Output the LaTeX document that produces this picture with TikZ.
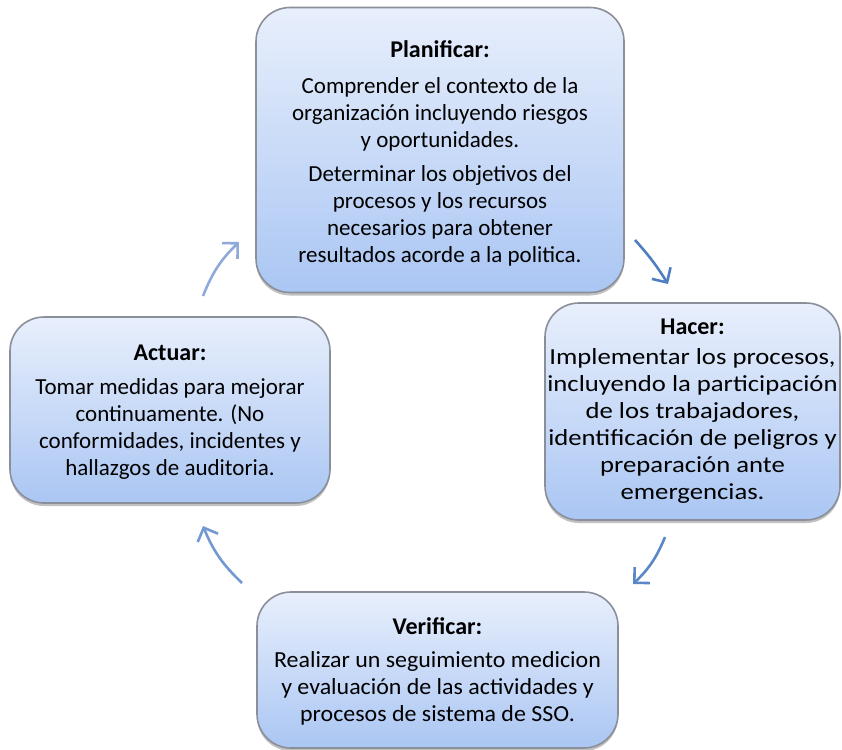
\documentclass[tikz,border=0pt]{standalone}
\usepackage{fontspec}
\setmainfont{Carlito}
\newfontfamily\widefont[FakeStretch=1.16]{Carlito}
\newfontfamily\semiwide[FakeStretch=1.04]{Carlito}
\usetikzlibrary{arrows.meta,shadows}
\definecolor{boxtop}{HTML}{E8EFFC}
\definecolor{boxbot}{HTML}{AAC6F3}
\definecolor{boxedge}{HTML}{8A8F99}
\definecolor{arrA}{HTML}{8EAADB}
\definecolor{arrB}{HTML}{4F7FC0}
\definecolor{arrC}{HTML}{5A87C6}
\definecolor{arrD}{HTML}{7399D2}
\newcommand{\phasehead}[1]{{\rmfamily\fontsize{24}{27}\selectfont\textbf{#1}}}
\tikzset{
  phase/.style={draw=boxedge, line width=1.6pt, rounded corners=34pt,
    top color=boxtop, bottom color=boxbot, inner sep=0pt,
    drop shadow={shadow xshift=0pt, shadow yshift=-3pt, opacity=0.35, fill=black!70}},
  phasetext/.style={align=center, inner sep=0pt, font=\fontsize{23}{27}\selectfont},
  cyc/.style={line width=2.6pt, -{Straight Barb[length=11pt,width=22pt,line width=2.6pt]}, bend left=12}
}
\begin{document}
\begin{tikzpicture}[x=1pt,y=-1pt]
\useasboundingbox (0,0) rectangle (842,749);

% the four rounded phase boxes
\node[phase, minimum width=368, minimum height=285] (plan) at (440,150) {};
\node[phase, minimum width=295, minimum height=217] (hacer) at (692.5,411.5) {};
\node[phase, minimum width=320, minimum height=186] (actuar) at (170,410) {};
\node[phase, minimum width=361, minimum height=156] (verif) at (437.5,670) {};

% their texts
\node[phasetext, yshift=-3pt] (plantxt) at (plan.center)
 {\phasehead{Planificar:}\\[9pt]
  Comprender el contexto de la\\
  organización incluyendo riesgos\\
  y oportunidades.\\[7pt]
  Determinar los objetivos del\\
  procesos y los recursos\\
  necesarios para obtener\\
  resultados acorde a la politica.};

\node[phasetext, font=\fontsize{23}{27}\widefont] (hacertxt) at (hacer.center)
 {\phasehead{Hacer:}\\[3pt]
  Implementar los procesos,\\
  incluyendo la participación\\
  de los trabajadores,\\
  identificación de peligros y\\
  preparación ante\\
  emergencias.};

\node[phasetext, yshift=-2pt] (actuartxt) at (actuar.center)
 {\phasehead{Actuar:}\\[7pt]
  Tomar medidas para mejorar\\
  continuamente. (No\\
  conformidades, incidentes y\\
  hallazgos de auditoria.};

\node[phasetext, font=\fontsize{23}{27}\semiwide, yshift=-1pt] (veriftxt) at (verif.center)
 {\phasehead{Verificar:}\\[6pt]
  Realizar un seguimiento medicion\\
  y evaluación de las actividades y\\
  procesos de sistema de SSO.};

% free ends of the cycle arrows
\coordinate (a1) at (203,296);
\coordinate (a2) at (239,242);
\coordinate (b1) at (635,240);
\coordinate (b2) at (668,284);
\coordinate (c1) at (665,537);
\coordinate (c2) at (633,584);
\coordinate (d1) at (242,583);
\coordinate (d2) at (203,526);

\draw[cyc, arrA] (a1) to (a2);
\draw[cyc, arrB, bend left=5] (b1) to (b2);
\draw[cyc, arrC] (c1) to (c2);
\draw[cyc, arrD] (d1) to (d2);
\end{tikzpicture}
\end{document}
